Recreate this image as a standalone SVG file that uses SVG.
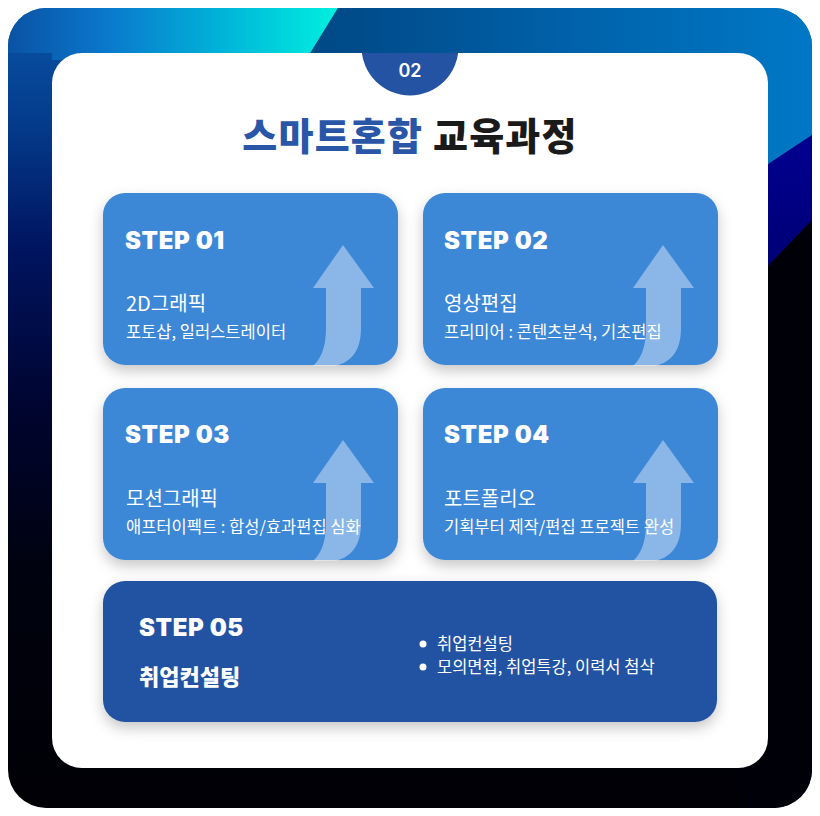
<svg xmlns="http://www.w3.org/2000/svg" width="820" height="816" viewBox="0 0 820 816">
  <defs>
    <clipPath id="outerClip"><rect x="8" y="8" width="804" height="800" rx="38"/></clipPath>
    <clipPath id="cardClip"><rect x="52" y="53" width="716" height="715" rx="30"/></clipPath>
    <linearGradient id="bgBase" x1="0" y1="0" x2="0" y2="1">
      <stop offset="0" stop-color="#0a55a8"/>
      <stop offset="0.15" stop-color="#043a8a"/>
      <stop offset="0.3" stop-color="#001460"/>
      <stop offset="0.5" stop-color="#000530"/>
      <stop offset="0.7" stop-color="#00020f"/>
      <stop offset="1" stop-color="#000005"/>
    </linearGradient>
    <linearGradient id="bgTopLeft" x1="8" y1="0" x2="338" y2="0" gradientUnits="userSpaceOnUse">
      <stop offset="0" stop-color="#0a52a4"/>
      <stop offset="0.3" stop-color="#0a78cc"/>
      <stop offset="0.65" stop-color="#00b4d8"/>
      <stop offset="1" stop-color="#00f0e0"/>
    </linearGradient>
    <linearGradient id="bgTopRight" x1="338" y1="0" x2="812" y2="0" gradientUnits="userSpaceOnUse">
      <stop offset="0" stop-color="#004a88"/>
      <stop offset="0.5" stop-color="#0062aa"/>
      <stop offset="1" stop-color="#0078c6"/>
    </linearGradient>
    <linearGradient id="bgNavy" x1="0" y1="0" x2="0" y2="1">
      <stop offset="0" stop-color="#000090"/>
      <stop offset="1" stop-color="#000070"/>
    </linearGradient>
    <filter id="shadow" x="-10%" y="-10%" width="120%" height="135%">
      <feDropShadow dx="0" dy="6" stdDeviation="7" flood-color="#000000" flood-opacity="0.22"/>
    </filter>
    <path id="arrow" d="M0,0 L31,43 L18,43 L18,83 C18,105 9,117 -8,121 L-30,121 C-21,113 -17,100 -17,83 L-17,43 L-30,43 Z"/>
  </defs>
  <style>
    .card { fill: #3e87d7; }
    .card5 { fill: #2453a3; }
    .step { font-family: Inter, "Noto Sans", sans-serif; font-weight: 900; font-size: 24px; fill: #ffffff; letter-spacing: 0.6px; }
    .ttl { font-family: "Noto Sans CJK KR", "Noto Sans", sans-serif; font-weight: 400; font-size: 20px; fill: #ffffff; }
    .sub { font-family: "Noto Sans CJK KR", "Noto Sans", sans-serif; font-weight: 400; font-size: 16.5px; fill: #ffffff; }
    .arr { fill: #ffffff; fill-opacity: 0.4; }
  </style>

  <g id="background" clip-path="url(#outerClip)">
    <rect x="8" y="8" width="804" height="800" fill="url(#bgBase)"/>
    <polygon points="8,8 338,8 306,60 52,60 52,53 8,53" fill="url(#bgTopLeft)"/>
    <polygon points="338,8 812,8 812,135 740,183 740,60 306,60" fill="url(#bgTopRight)"/>
    <polygon points="740,183 812,135 812,220 740,295" fill="url(#bgNavy)"/>
    <polygon points="740,295 812,220 812,808 740,808" fill="#000008"/>
  </g>

  <g id="panel">
    <rect x="52" y="53" width="716" height="715" rx="30" fill="#ffffff"/>
    <circle cx="410" cy="47" r="48.5" fill="#2453a3" clip-path="url(#cardClip)"/>
    <text x="410" y="77" text-anchor="middle" font-family="Inter, 'Noto Sans', sans-serif" font-weight="600" font-size="18" fill="#ffffff">02</text>
    <text x="410" y="150" text-anchor="middle" font-family="'Noto Sans CJK KR', sans-serif" font-weight="900" font-size="38" letter-spacing="1.2"><tspan fill="#2a56a8">스마트혼합</tspan><tspan fill="#1a1a1a"> 교육과정</tspan></text>
  </g>

  <g id="step1">
    <rect class="card" x="103" y="193" width="295" height="172" rx="22" filter="url(#shadow)"/>
    <use href="#arrow" class="arr" x="343" y="245"/>
    <text class="step" x="125" y="249">STEP 01</text>
    <text class="ttl" x="126" y="311">2D그래픽</text>
    <text class="sub" x="126" y="338">포토샵, 일러스트레이터</text>
  </g>

  <g id="step2">
    <rect class="card" x="423" y="193" width="295" height="172" rx="22" filter="url(#shadow)"/>
    <use href="#arrow" class="arr" x="663" y="245"/>
    <text class="step" x="444" y="249">STEP 02</text>
    <text class="ttl" x="444" y="311">영상편집</text>
    <text class="sub" x="444" y="338">프리미어 : 콘텐츠분석, 기초편집</text>
  </g>

  <g id="step3">
    <rect class="card" x="103" y="388" width="295" height="172" rx="22" filter="url(#shadow)"/>
    <use href="#arrow" class="arr" x="343" y="440"/>
    <text class="step" x="125" y="443">STEP 03</text>
    <text class="ttl" x="126" y="506">모션그래픽</text>
    <text class="sub" x="126" y="533">애프터이펙트 : 합성/효과편집 심화</text>
  </g>

  <g id="step4">
    <rect class="card" x="423" y="388" width="295" height="172" rx="22" filter="url(#shadow)"/>
    <use href="#arrow" class="arr" x="663" y="440"/>
    <text class="step" x="444" y="443">STEP 04</text>
    <text class="ttl" x="444" y="506">포트폴리오</text>
    <text class="sub" x="444" y="533">기획부터 제작/편집 프로젝트 완성</text>
  </g>

  <g id="step5">
    <rect class="card5" x="103" y="581" width="614" height="141" rx="22" filter="url(#shadow)"/>
    <text class="step" x="139" y="636">STEP 05</text>
    <text x="139" y="685" font-family="'Noto Sans CJK KR', sans-serif" font-weight="900" font-size="22" fill="#ffffff">취업컨설팅</text>
    <circle cx="423" cy="644" r="3.5" fill="#ffffff"/>
    <circle cx="423" cy="667" r="3.5" fill="#ffffff"/>
    <text class="sub" x="437" y="650">취업컨설팅</text>
    <text class="sub" x="437" y="673">모의면접, 취업특강, 이력서 첨삭</text>
  </g>
</svg>
